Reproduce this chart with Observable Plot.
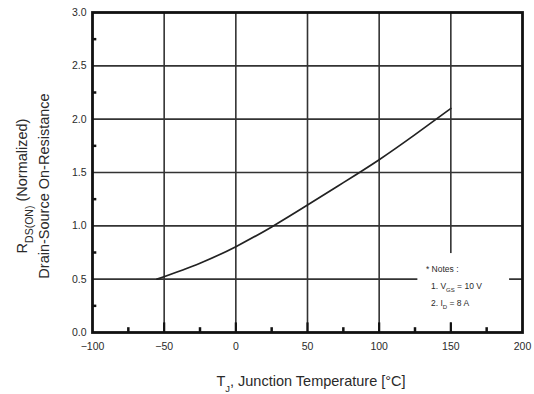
<!DOCTYPE html>
<html>
<head>
<meta charset="utf-8">
<script src="https://cdn.jsdelivr.net/npm/d3@7"></script>
<script src="https://cdn.jsdelivr.net/npm/@observablehq/plot@0.6"></script>
<style>
  html, body { margin: 0; padding: 0; background: #fff; }
  svg { display: block; }
</style>
</head>
<body>
<div id="chart"></div>
<script>
// Junction temperature (°C) and normalized on-resistance
const temps = [-55, -25, 0, 25, 50, 75, 100, 125, 150];
const rdson = [0.50, 0.65, 0.805, 0.99, 1.195, 1.405, 1.62, 1.855, 2.10];

const xTicks = [-100, -50, 0, 50, 100, 150, 200];
const yTicks = [0.0, 0.5, 1.0, 1.5, 2.0, 2.5, 3.0];
const xMinor = [-75, -25, 25, 75, 125, 175];
const yMinor = [0.25, 0.75, 1.25, 1.75, 2.25, 2.75];

const noteLines = [
  [["* Notes :", false]],
  [["1. V", false], ["GS", true], [" = 10 V", false]],
  [["2. I", false], ["D", true], [" = 8 A", false]]
];

const data = temps.map((t, i) => ({t, r: rdson[i]}));
const FONT = "Liberation Sans, Arial, sans-serif";
const INK = "#2a2a2a";

const chart = Plot.plot({
  width: 534,
  height: 394,
  marginLeft: 92,
  marginRight: 12,
  marginTop: 12,
  marginBottom: 62,
  style: {fontFamily: FONT, background: "white"},
  x: {domain: [-100, 200], label: null},
  y: {domain: [0, 3], label: null},
  marks: [
    Plot.ruleX(xTicks.slice(1, -1), {stroke: "#333", strokeWidth: 1.6}),
    Plot.ruleY(yTicks.slice(1, -1), {stroke: "#333", strokeWidth: 1.6}),
    Plot.rect([0], {x1: 127, x2: 191, y1: 0.09, y2: 0.74, fill: "white"}),
    Plot.line(data, {x: "t", y: "r", curve: "natural", stroke: "#222", strokeWidth: 1.7}),
    Plot.ruleX(xMinor, {y1: 0, y2: 0.045, stroke: "#111", strokeWidth: 2.5}),
    Plot.ruleX(xTicks.slice(1, -1), {y1: 0, y2: 0.09, stroke: "#111", strokeWidth: 2.2}),
    Plot.ruleY(yMinor, {x1: -100, x2: -97, stroke: "#111", strokeWidth: 2.5}),
    Plot.frame({stroke: "#111", strokeWidth: 2.8}),
    Plot.axisX(xTicks, {tickSize: 0, tickPadding: 10, fontSize: 10.5, fill: INK, label: null}),
    Plot.axisY(yTicks, {tickSize: 0, tickPadding: 6, fontSize: 10.5, fill: INK, label: null, tickFormat: d3.format(".1f")})
  ]
});

document.getElementById("chart").appendChild(chart);

const svg = d3.select(chart);
const sx = chart.scale("x");
const sy = chart.scale("y");

// Notes inside the plot
const notesG = svg.append("g")
  .attr("font-family", FONT).attr("font-size", 8.5).attr("fill", INK)
  .attr("text-anchor", "start");
const nx = sx.apply(133);
const ny0 = sy.apply(0.56);
noteLines.forEach((parts, i) => {
  const t = notesG.append("text")
    .attr("x", nx + (i === 0 ? 0 : 5))
    .attr("y", ny0 + i * 17);
  parts.forEach(([s, sub]) => {
    const ts = t.append("tspan").text(s);
    if (sub) ts.attr("baseline-shift", "sub").attr("font-size", 6);
  });
});

// Y-axis title (two lines, rotated)
const cy = (sy.apply(0) + sy.apply(3)) / 2 + 14;
const yl1 = svg.append("text")
  .attr("transform", `translate(27,${cy}) rotate(-90)`)
  .attr("text-anchor", "middle")
  .attr("font-family", FONT).attr("font-size", 14.5).attr("fill", INK);
yl1.append("tspan").text("R");
yl1.append("tspan").text("DS(ON)").attr("font-size", 10.5).attr("baseline-shift", "sub");
yl1.append("tspan").text(" (Normalized)");
svg.append("text")
  .attr("transform", `translate(49,${cy}) rotate(-90)`)
  .attr("text-anchor", "middle")
  .attr("font-family", FONT).attr("font-size", 14.5).attr("fill", INK)
  .text("Drain-Source On-Resistance");

// X-axis title
const xl = svg.append("text")
  .attr("x", (sx.apply(-100) + sx.apply(200)) / 2 + 4)
  .attr("y", 386)
  .attr("text-anchor", "middle")
  .attr("font-family", FONT).attr("font-size", 14.5).attr("fill", INK);
xl.append("tspan").text("T");
xl.append("tspan").text("J").attr("font-size", 9.5).attr("baseline-shift", "sub");
xl.append("tspan").text(", Junction Temperature [°C]");
</script>
</body>
</html>
